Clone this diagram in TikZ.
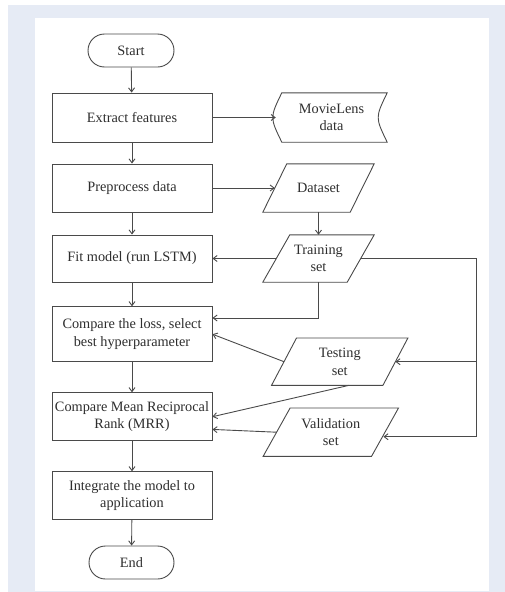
\documentclass[tikz,border=0pt]{standalone}
\usepackage{fontspec}
\setmainfont{Liberation Serif}
\usetikzlibrary{arrows.meta,calc}
\definecolor{bgblue}{HTML}{E6EBF5}
\definecolor{ink}{HTML}{4A4A4A}
\definecolor{txt}{HTML}{2E2E2E}
\newcommand\drawpara[2]{%
  \draw[line] (#1.south west) -- ($(#1.north west)+(#2,0)$) -- (#1.north east) -- ($(#1.south east)-(#2,0)$) -- cycle;
  \coordinate (#1-l) at ($(#1.west)+(0.5*#2,0)$);
  \coordinate (#1-r) at ($(#1.east)-(0.5*#2,0)$);}
\begin{document}
\begin{tikzpicture}[x=1pt,y=-1pt,
  line/.style={draw=ink,line width=0.9pt},
  arr/.style={line,-{Straight Barb[length=4pt,width=6pt]}},
  base/.style={text=txt,font=\fontsize{14.3}{17.5}\selectfont,align=center,inner sep=0pt},
  procbox/.style={base,line,minimum width=160pt},
  termbox/.style={base,line,rounded corners=16.5pt,minimum height=33pt},
  parabox/.style={base,minimum width=#1},
]
\useasboundingbox (0,0) rectangle (505,592);
\fill[white] (0,0) rectangle (505,592);
\fill[bgblue] (8,5) rectangle (505,592);
\fill[white] (35,17.5) rectangle (489,590.5);

% main column
\node[termbox,minimum width=86pt] (start) at (131,50.5) {Start};
\node[procbox,minimum height=49pt] (ext) at (132,117.5) {Extract features};
\node[procbox,minimum height=48pt] (pre) at (132,188) {Preprocess data};
\node[procbox,minimum height=47pt] (fit) at (132,258.5) {Fit model (run LSTM)};
\node[procbox,minimum height=55pt] (cmp) at (132,334.2) {Compare the loss, select\\best hyperparameter};
\node[procbox,minimum height=48pt] (mrr) at (132,416.7) {Compare Mean Reciprocal\\Rank (MRR)};
\node[procbox,minimum height=47.6pt] (intg) at (132,495.5) {Integrate the model to\\application};
\node[termbox,minimum width=85pt] (end) at (131.5,562.5) {End};

% stored data
\node[base,minimum width=111pt,minimum height=49pt] (ml) at (331.5,117.5) {MovieLens\\data};
\draw[line] ($(ml.north west)+(6,0)$) -- (ml.north east)
  .. controls ($(ml.east)+(-12,0)$) .. (ml.south east)
  -- ($(ml.south west)+(6,0)$)
  .. controls ($(ml.west)+(-6,0)$) .. cycle;

% data parallelograms
\node[parabox=111pt,minimum height=48pt] (ds) at (318.5,188) {Dataset};
\drawpara{ds}{24}
\node[parabox=111pt,minimum height=47pt] (tr) at (318.5,258.5) {Training\\set};
\drawpara{tr}{27}
\node[parabox=136pt,minimum height=47pt] (tst) at (339.7,361.7) {Testing\\set};
\drawpara{tst}{25}
\node[parabox=135pt,minimum height=48pt] (val) at (330.8,432.2) {Validation\\set};
\drawpara{val}{27}

% main flow
\draw[arr] (start) -- (ext);
\draw[arr] (ext) -- (pre);
\draw[arr] (pre) -- (fit);
\draw[arr] (fit) -- (cmp);
\draw[arr] (cmp) -- (mrr);
\draw[arr] (mrr) -- (intg);
\draw[arr] (intg) -- (end);

% side flows
\draw[arr] (ext.east) -- (ml.west);
\draw[arr] (pre.east) -- (ds-l);
\draw[arr] (ds.south) -- (tr.north);
\draw[arr] (tr-l) -- (fit.east);
\coordinate (cmpin) at ($(cmp.north east)!0.21!(cmp.south east)$);
\draw[arr] (tr.south) |- (cmpin);
\draw[arr] (tst-l) -- (cmp.east);
\coordinate (tstb) at ($(tst.south)+(9,0)$);
\draw[arr] (tstb) -- (mrr.east);
\coordinate (mrrin) at ($(mrr.north east)!0.76!(mrr.south east)$);
\draw[arr] (val-l) -- (mrrin);

% bus to testing and validation
\coordinate (busTop) at (476.7,258.5);
\coordinate (busT) at (476.7,361.7);
\coordinate (busV) at (476.7,436.7);
\coordinate (valin) at (383.4,436.7);
\draw[line] (tr-r) -- (busTop) -- (busV);
\draw[arr] (busV) -- (valin);
\draw[arr] (busT) -- (tst-r);
\end{tikzpicture}
\end{document}
